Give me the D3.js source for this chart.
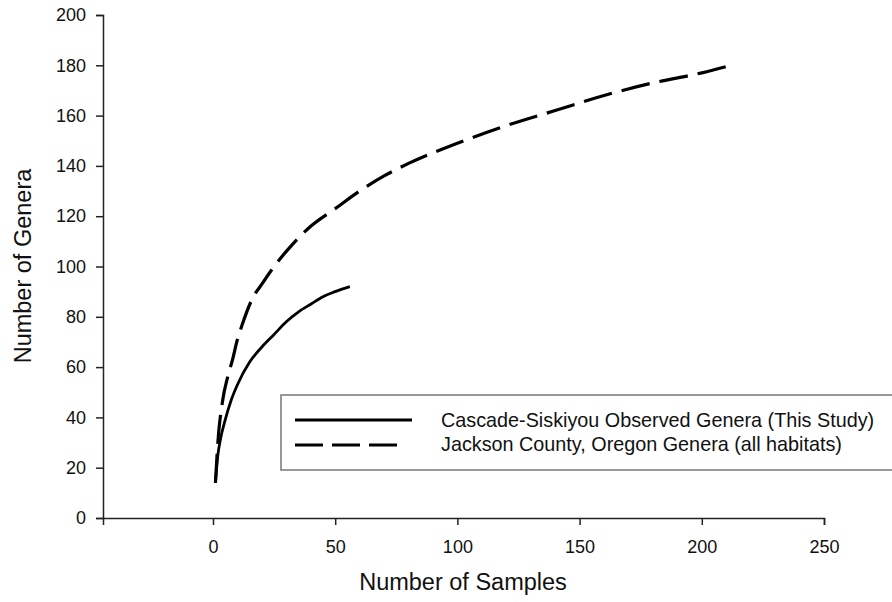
<!DOCTYPE html>
<html>
<head>
<meta charset="utf-8">
<script src="https://cdn.jsdelivr.net/npm/d3@7"></script>
<style>
  body { margin: 0; background: #fff; }
  svg { font-family: "Liberation Sans", Arial, sans-serif; }
</style>
</head>
<body>
<svg id="chart" width="892" height="602"></svg>
<script>
// rarefaction curves
var studySamples = [1, 2, 3, 5, 7.5, 10, 15, 20, 25, 30, 35, 40, 45, 50, 56];
var studyGenera  = [14, 25, 31, 39, 47, 53, 62, 68, 73, 78, 82, 85, 88, 90, 92];

var countySamples = [1, 2, 4, 6, 8, 10, 12, 16, 20, 25, 30, 40, 50, 60, 70, 80, 100, 120, 140, 160, 180, 200, 212];
var countyGenera  = [14, 30, 47, 56, 63, 71, 77, 87, 93, 100, 106, 116, 123, 130, 136, 141, 149, 156, 162, 168, 173, 177, 180];

var xTicks = [0, 50, 100, 150, 200, 250];
var yTicks = [0, 20, 40, 60, 80, 100, 120, 140, 160, 180, 200];

var seriesNames = ["Cascade-Siskiyou Observed Genera (This Study)", "Jackson County, Oregon Genera (all habitats)"];

var svg = d3.select("#chart");

var x = d3.scaleLinear().domain([-45, 250]).range([103, 824]);
var y = d3.scaleLinear().domain([0, 200]).range([518, 15]);

// axes
var xAxis = svg.append("g")
    .attr("transform", "translate(0," + y(0) + ")")
    .call(d3.axisBottom(x).tickValues(xTicks).tickSizeOuter(0).tickSize(7).tickPadding(15));

var yAxis = svg.append("g")
    .attr("transform", "translate(" + x(-45) + ",0)")
    .call(d3.axisLeft(y).tickValues(yTicks).tickSizeOuter(0).tickSize(7).tickPadding(10));

[xAxis, yAxis].forEach(function (a) {
  a.select(".domain").attr("stroke", "#222").attr("stroke-width", 1.5);
  a.selectAll(".tick line").attr("stroke", "#222").attr("stroke-width", 1.5);
  a.selectAll(".tick text").attr("fill", "#111").style("font-size", "18px")
   .style("font-family", "'Liberation Sans', Arial, sans-serif");
});

// titles
svg.append("text")
    .attr("x", 463).attr("y", 590)
    .attr("text-anchor", "middle")
    .style("font-size", "23.5px").attr("fill", "#111")
    .text("Number of Samples");

svg.append("text")
    .attr("transform", "translate(31," + 266 + ") rotate(-90)")
    .attr("text-anchor", "middle")
    .style("font-size", "23.5px").attr("fill", "#111")
    .text("Number of Genera");

// curves
var line = d3.line()
    .x(function (d) { return x(d[0]); })
    .y(function (d) { return y(d[1]); })
    .curve(d3.curveMonotoneX);

var dash = "29,10";

svg.append("path")
    .datum(d3.zip(countySamples, countyGenera))
    .attr("d", line)
    .attr("fill", "none").attr("stroke", "#000")
    .attr("stroke-width", 3.2)
    .attr("stroke-dasharray", dash);

svg.append("path")
    .datum(d3.zip(studySamples, studyGenera))
    .attr("d", line)
    .attr("fill", "none").attr("stroke", "#000")
    .attr("stroke-width", 2.8);

// legend
var legend = svg.append("g");
legend.append("rect")
    .attr("x", 281).attr("y", 395)
    .attr("width", 640).attr("height", 75)
    .attr("fill", "#fff").attr("stroke", "#777").attr("stroke-width", 1.5);

seriesNames.forEach(function (name, i) {
  var ly = 420 + i * 25;
  legend.append("line")
      .attr("x1", 295).attr("x2", i ? 402 : 412)
      .attr("y1", ly).attr("y2", ly)
      .attr("stroke", "#000").attr("stroke-width", i ? 3.2 : 2.8)
      .attr("stroke-dasharray", i ? "28,9" : null);
  legend.append("text")
      .attr("x", 441).attr("y", 427 + i * 24)
      .style("font-size", "19.8px").attr("fill", "#111")
      .text(name);
});
</script>
</body>
</html>
